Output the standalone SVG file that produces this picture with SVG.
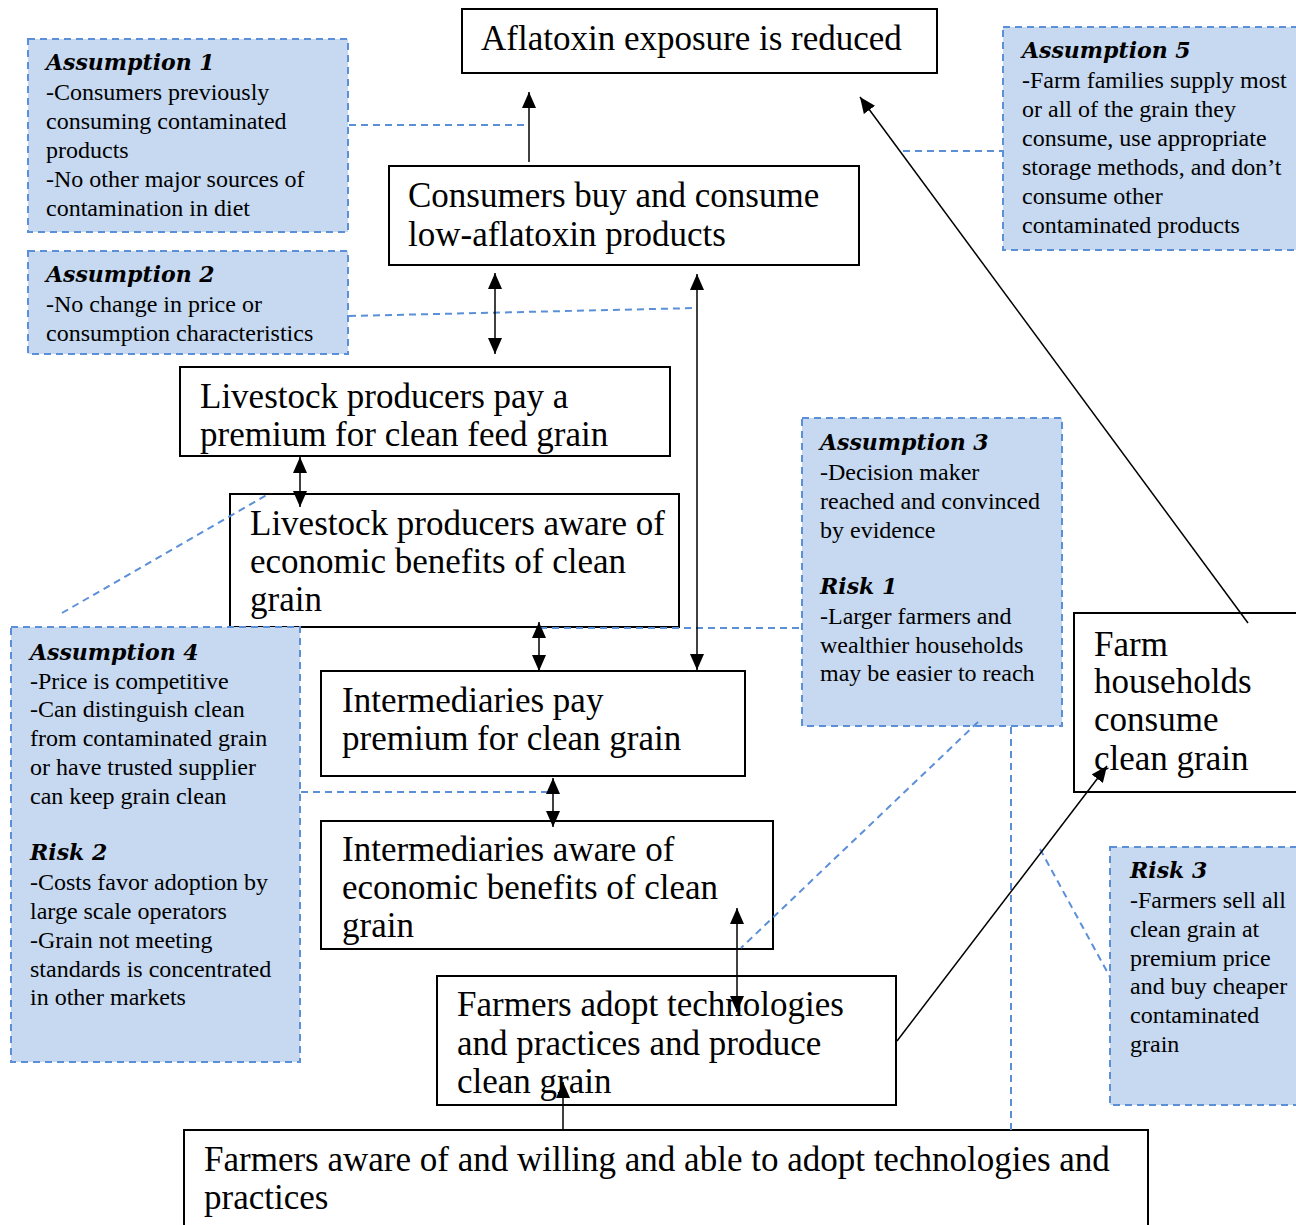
<svg xmlns="http://www.w3.org/2000/svg" width="1296" height="1225" viewBox="0 0 1296 1225">
<style>
.node{fill:#fff;stroke:#000;stroke-width:2}
.nt{font-family:"Liberation Serif","Times New Roman",serif;font-size:35px;fill:#000}
.bb{fill:#c6d9f0;stroke:#5b8fd8;stroke-width:2;stroke-dasharray:7 5}
.bt{font-family:"Liberation Serif","Times New Roman",serif;font-size:24px;fill:#000}
.bh{font-family:"DejaVu Serif",Georgia,serif;font-size:22px;font-weight:bold;font-style:italic;fill:#000}
.dash{fill:none;stroke:#5b8fd8;stroke-width:2;stroke-dasharray:7 5}
.arr{fill:none;stroke:#000;stroke-width:1.5}
</style>
<defs>
<marker id="ah" markerUnits="userSpaceOnUse" markerWidth="16" markerHeight="14" refX="16" refY="7" orient="auto-start-reverse" viewBox="0 0 16 14">
<path d="M0,0 L16,7 L0,14 z" fill="#000"/>
</marker>
</defs>
<rect width="1296" height="1225" fill="#fff"/>

<g id="n-aflatoxin"><rect class="node" x="462" y="9" width="475" height="64"/><text class="nt" x="481" y="50">Aflatoxin exposure is reduced</text></g>
<g id="n-consumers"><rect class="node" x="389" y="166" width="470" height="99"/><text class="nt"><tspan x="408" y="207">Consumers buy and consume</tspan><tspan x="408" y="246">low-aflatoxin products</tspan></text></g>
<g id="n-livestock-pay"><rect class="node" x="180" y="367" width="490" height="89"/><text class="nt"><tspan x="200" y="408">Livestock producers pay a</tspan><tspan x="200" y="446">premium for clean feed grain</tspan></text></g>
<g id="n-livestock-aware"><rect class="node" x="230" y="494" width="449" height="133"/><text class="nt"><tspan x="250" y="535">Livestock producers aware of</tspan><tspan x="250" y="573">economic benefits of clean</tspan><tspan x="250" y="611">grain</tspan></text></g>
<g id="n-inter-pay"><rect class="node" x="321" y="671" width="424" height="105"/><text class="nt"><tspan x="342" y="712">Intermediaries pay</tspan><tspan x="342" y="750">premium for clean grain</tspan></text></g>
<g id="n-inter-aware"><rect class="node" x="321" y="821" width="452" height="128"/><text class="nt"><tspan x="342" y="861">Intermediaries aware of</tspan><tspan x="342" y="899">economic benefits of clean</tspan><tspan x="342" y="937">grain</tspan></text></g>
<g id="n-farmers-adopt"><rect class="node" x="437" y="976" width="459" height="129"/><text class="nt"><tspan x="457" y="1016">Farmers adopt technologies</tspan><tspan x="457" y="1055">and practices and produce</tspan><tspan x="457" y="1093">clean grain</tspan></text></g>
<g id="n-farmers-aware"><rect class="node" x="184" y="1130" width="964" height="110"/><text class="nt"><tspan x="204" y="1171">Farmers aware of and willing and able to adopt technologies and</tspan><tspan x="204" y="1209">practices</tspan></text></g>
<g id="n-farm-households"><rect class="node" x="1074" y="613" width="240" height="179"/><text class="nt"><tspan x="1094" y="656">Farm</tspan><tspan x="1094" y="693">households</tspan><tspan x="1094" y="731">consume</tspan><tspan x="1094" y="770">clean grain</tspan></text></g>

<g id="a1"><rect class="bb" x="28" y="39" width="320" height="193"/><text class="bh" x="46" y="70">Assumption 1</text><text class="bt"><tspan x="46" y="100">-Consumers previously</tspan><tspan x="46" y="129">consuming contaminated</tspan><tspan x="46" y="158">products</tspan><tspan x="46" y="187">-No other major sources of</tspan><tspan x="46" y="216">contamination in diet</tspan></text></g>
<g id="a2"><rect class="bb" x="28" y="251" width="320" height="103"/><text class="bh" x="46" y="282">Assumption 2</text><text class="bt"><tspan x="46" y="312">-No change in price or</tspan><tspan x="46" y="341">consumption characteristics</tspan></text></g>
<g id="a5"><rect class="bb" x="1003" y="27" width="310" height="223"/><text class="bh" x="1022" y="58">Assumption 5</text><text class="bt"><tspan x="1022" y="88">-Farm families supply most</tspan><tspan x="1022" y="117">or all of the grain they</tspan><tspan x="1022" y="146">consume, use appropriate</tspan><tspan x="1022" y="175">storage methods, and don’t</tspan><tspan x="1022" y="204">consume other</tspan><tspan x="1022" y="233">contaminated products</tspan></text></g>
<g id="a3"><rect class="bb" x="802" y="418" width="260" height="308"/><text class="bh" x="820" y="450">Assumption 3</text><text class="bt"><tspan x="820" y="480">-Decision maker</tspan><tspan x="820" y="509">reached and convinced</tspan><tspan x="820" y="538">by evidence</tspan></text><text class="bh" x="820" y="594">Risk 1</text><text class="bt"><tspan x="820" y="624">-Larger farmers and</tspan><tspan x="820" y="653">wealthier households</tspan><tspan x="820" y="681">may be easier to reach</tspan></text></g>
<g id="a4"><rect class="bb" x="11" y="627" width="289" height="435"/><text class="bh" x="30" y="660">Assumption 4</text><text class="bt"><tspan x="30" y="689">-Price is competitive</tspan><tspan x="30" y="717">-Can distinguish clean</tspan><tspan x="30" y="746">from contaminated grain</tspan><tspan x="30" y="775">or have trusted supplier</tspan><tspan x="30" y="804">can keep grain clean</tspan></text><text class="bh" x="30" y="860">Risk 2</text><text class="bt"><tspan x="30" y="890">-Costs favor adoption by</tspan><tspan x="30" y="919">large scale operators</tspan><tspan x="30" y="948">-Grain not meeting</tspan><tspan x="30" y="977">standards is concentrated</tspan><tspan x="30" y="1005">in other markets</tspan></text></g>
<g id="r3"><rect class="bb" x="1110" y="847" width="200" height="258"/><text class="bh" x="1130" y="878">Risk 3</text><text class="bt"><tspan x="1130" y="908">-Farmers sell all</tspan><tspan x="1130" y="937">clean grain at</tspan><tspan x="1130" y="966">premium price</tspan><tspan x="1130" y="994">and buy cheaper</tspan><tspan x="1130" y="1023">contaminated</tspan><tspan x="1130" y="1052">grain</tspan></text></g>

<g id="connectors">
<line class="dash" x1="349" y1="125" x2="529" y2="125"/>
<line class="dash" x1="349" y1="316" x2="697" y2="308"/>
<line class="dash" x1="62" y1="613" x2="270" y2="493"/>
<line class="dash" x1="540" y1="628" x2="802" y2="628"/>
<line class="dash" x1="301" y1="792" x2="553" y2="792"/>
<line class="dash" x1="903" y1="151" x2="1003" y2="151"/>
<line class="dash" x1="978" y1="722" x2="741" y2="948"/>
<line class="dash" x1="1011" y1="727" x2="1011" y2="1130"/>
<line class="dash" x1="1040" y1="849" x2="1110" y2="977"/>
<line class="arr" x1="529" y1="162" x2="529" y2="92" marker-end="url(#ah)"/>
<line class="arr" x1="495" y1="273" x2="495" y2="354" marker-start="url(#ah)" marker-end="url(#ah)"/>
<line class="arr" x1="697" y1="274" x2="697" y2="670" marker-start="url(#ah)" marker-end="url(#ah)"/>
<line class="arr" x1="300" y1="457" x2="300" y2="507" marker-start="url(#ah)" marker-end="url(#ah)"/>
<line class="arr" x1="539" y1="622" x2="539" y2="671" marker-start="url(#ah)" marker-end="url(#ah)"/>
<line class="arr" x1="553" y1="778" x2="553" y2="827" marker-start="url(#ah)" marker-end="url(#ah)"/>
<line class="arr" x1="737" y1="908" x2="737" y2="1012" marker-start="url(#ah)" marker-end="url(#ah)"/>
<line class="arr" x1="563" y1="1130" x2="563" y2="1082" marker-end="url(#ah)"/>
<line class="arr" x1="1248" y1="623" x2="860" y2="97" marker-end="url(#ah)"/>
<line class="arr" x1="897" y1="1041" x2="1107" y2="766" marker-end="url(#ah)"/>
</g>
</svg>
